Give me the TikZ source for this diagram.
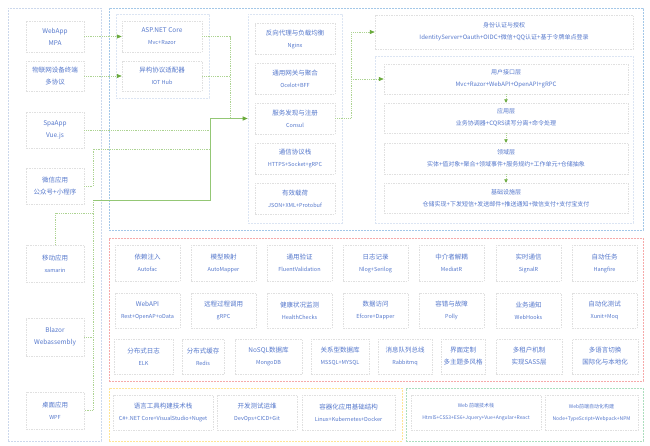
\documentclass[tikz,border=0pt]{standalone}
\usepackage{fontspec}
\setmainfont{Noto Sans CJK SC}
\usetikzlibrary{arrows.meta}
\definecolor{txtblue}{HTML}{5578CC}
\definecolor{boxgray}{HTML}{E0E0E0}
\definecolor{frleft}{HTML}{CCD8EC}
\definecolor{frtop}{HTML}{A4C8E8}
\definecolor{frsub}{HTML}{DCE5F3}
\definecolor{frred}{HTML}{F6AAAA}
\definecolor{fryel}{HTML}{FFE596}
\definecolor{frgrn}{HTML}{ACDEBE}
\definecolor{lgreen}{HTML}{ADD392}
\definecolor{mgreen}{HTML}{94C775}
\definecolor{agreen}{HTML}{6AAA3C}
\newcommand\ttl[1]{{\fontsize{6.5}{7.5}\selectfont #1}}
\newcommand\sbt[1]{{\fontsize{5.5}{7}\selectfont #1}}
\newcommand\bt[2]{\ttl{#1}\\\sbt{#2}}
\newcommand\rt[2]{{\fontsize{6}{7.5}\selectfont #1}\\{\fontsize{6}{7.5}\selectfont #2}}
\newcommand\gt[2]{{\fontsize{5}{7}\selectfont #1}\\{\fontsize{5}{7}\selectfont #2}}
\begin{document}
\begin{tikzpicture}[x=1pt,y=-1pt,
  bx/.style={draw=boxgray, line width=0.5pt, dash pattern=on 1.5pt off 1pt,
    text=txtblue, align=center, inner sep=0pt},
  fr/.style={line width=0.6pt, dash pattern=on 2pt off 1pt, inner sep=0pt},
  conn/.style={draw=lgreen, line width=0.6pt, dash pattern=on 1pt off 0.8pt},
  bus/.style={draw=mgreen, line width=1pt},
  arr/.style={-{Triangle[length=5pt,width=4pt,color=agreen]}},
  sarr/.style={-{Triangle[length=3.5pt,width=3.5pt,color=agreen]}}
]
\useasboundingbox[fill=white] (0,0) rectangle (650,445);
% frames
\node[fr, draw=frleft, minimum width=93pt, minimum height=433pt] (fleft) at (54.5,224.5) {};
\node[fr, draw=frtop, minimum width=534pt, minimum height=222pt] (ftop) at (376,119) {};
\node[fr, draw=frsub, minimum width=93pt, minimum height=84pt] (fiot) at (162.5,56) {};
\node[fr, draw=frsub, minimum width=94pt, minimum height=209pt] (mfr) at (295,118.5) {};
\node[fr, draw=frsub, minimum width=258pt, minimum height=167pt] (rfr) at (504,139.5) {};
\node[fr, draw=frred, minimum width=534pt, minimum height=143pt] (fred) at (376,309.5) {};
\node[fr, draw=fryel, minimum width=293pt, minimum height=53pt] (fyel) at (255.5,414.5) {};
\node[fr, draw=frgrn, minimum width=237pt, minimum height=53pt] (fgrn) at (524.5,414.5) {};
% clients
\tikzset{cl/.style={bx, minimum width=58pt}}
\node[cl, minimum height=31pt] (web) at (55,36.5) {\ttl{WebApp}\\\ttl{MPA}};
\node[cl, minimum height=30pt] (iotc) at (55,76) {\ttl{物联网设备终端}\\\ttl{多协议}};
\node[cl, minimum height=36pt] (spa) at (55,130) {\ttl{SpaApp}\\\ttl{Vue.js}};
\node[cl, minimum height=36pt] (wx) at (55,186) {\ttl{微信应用}\\\ttl{公众号+小程序}};
\node[cl, minimum height=37pt] (mob) at (55,263.5) {\ttl{移动应用}\\\sbt{xamarin}};
\node[cl, minimum height=38pt] (blz) at (55,337) {\ttl{Blazor}\\\ttl{Webassembly}};
\node[cl, minimum height=37pt] (desk) at (55,410.5) {\ttl{桌面应用}\\\sbt{WPF}};
% top-left
\node[bx, minimum width=80pt, minimum height=31pt] (asp) at (162,36.5) {\bt{ASP.NET Core}{Mvc+Razor}};
\node[bx, minimum width=80pt, minimum height=30pt] (iot) at (162,76) {\bt{异构协议适配器}{IOT Hub}};
% middle column
\tikzset{mc/.style={bx, minimum width=80pt, minimum height=31pt}}
\node[mc] (m1) at (295,39) {\bt{反向代理与负载均衡}{Nginx}};
\node[mc] (m2) at (295,78.5) {\bt{通用网关与聚合}{Ocelot+BFF}};
\node[mc] (m3) at (295,118.5) {\bt{服务发现与注册}{Consul}};
\node[mc] (m4) at (295,158.5) {\bt{通信协议栈}{HTTPS+Socket+gRPC}};
\node[mc] (m5) at (295,198.5) {\bt{有效载荷}{JSON+XML+Protobuf}};
% right column
\node[bx, minimum width=258pt, minimum height=34pt] (auth) at (504,32) {\rt{身份认证与授权}{IdentityServer+Oauth+OIDC+微信+QQ认证+基于令牌单点登录}};
\tikzset{ly/.style={bx, minimum width=244pt}}
\node[ly, minimum height=30pt] (l1) at (506,79) {\rt{用户接口层}{Mvc+Razor+WebAPI+OpenAPI+gRPC}};
\node[ly, minimum height=30pt] (l2) at (506,118) {\rt{应用层}{业务协调器+CQRS读写分离+命令处理}};
\node[ly, minimum height=31pt] (l3) at (506,158.5) {\rt{领域层}{实体+值对象+聚合+领域事件+服务规约+工作单元+仓储抽象}};
\node[ly, minimum height=30pt] (l4) at (506,198) {\rt{基础设施层}{仓储实现+下发短信+发送邮件+推送通知+微信支付+支付宝支付}};
% red frame grid
\tikzset{g1/.style={bx, minimum width=65pt, minimum height=36pt},
         g2/.style={bx, minimum width=65pt, minimum height=35pt},
         g3/.style={bx, minimum height=35pt}}
\node[g1] (a1) at (147.5,263) {\bt{依赖注入}{Autofac}};
\node[g1] (a2) at (223.5,263) {\bt{模型映射}{AutoMapper}};
\node[g1] (a3) at (299.5,263) {\bt{通用验证}{FluentValidation}};
\node[g1] (a4) at (375.5,263) {\bt{日志记录}{Nlog+Serilog}};
\node[g1] (a5) at (451.5,263) {\bt{中介者解耦}{MediatR}};
\node[g1] (a6) at (528.5,263) {\bt{实时通信}{SignalR}};
\node[g1] (a7) at (604.5,263) {\bt{自动任务}{Hangfire}};
\node[g2] (b1) at (147.5,310.5) {\ttl{WebAPI}\\\sbt{Rest+OpenAP+oData}};
\node[g2] (b2) at (223.5,310.5) {\bt{远程过程调用}{gRPC}};
\node[g2] (b3) at (299.5,310.5) {\bt{健康状况监测}{HealthChecks}};
\node[g2] (b4) at (375.5,310.5) {\bt{数据访问}{Efcore+Dapper}};
\node[g2] (b5) at (451.5,310.5) {\bt{容错与故障}{Polly}};
\node[g2] (b6) at (528.5,310.5) {\bt{业务通知}{WebHooks}};
\node[g2] (b7) at (604.5,310.5) {\bt{自动化测试}{Xunit+Moq}};
\node[g3, minimum width=59pt] (d1) at (143.5,356.5) {\bt{分布式日志}{ELK}};
\node[g3, minimum width=42pt] (d2) at (203,356.5) {\bt{分布式缓存}{Redis}};
\node[g3, minimum width=67pt] (d3) at (268.5,356.5) {\bt{NoSQL数据库}{MongoDB}};
\node[g3, minimum width=58pt] (d4) at (340,356.5) {\bt{关系型数据库}{MSSQL+MYSQL}};
\node[g3, minimum width=54pt] (d5) at (405,356.5) {\bt{消息队列总线}{Rabbitmq}};
\node[g3, minimum width=44pt] (d6) at (463,356.5) {\ttl{界面定制}\\\ttl{多主题多风格}};
\node[g3, minimum width=66pt] (d7) at (529,356.5) {\ttl{多租户机制}\\\ttl{实现SASS层}};
\node[g3, minimum width=66pt] (d8) at (605,356.5) {\ttl{多语言切换}\\\ttl{国际化与本地化}};
% yellow frame
\tikzset{yb/.style={bx, minimum height=35pt}}
\node[yb, minimum width=100pt] (y1) at (163,412.5) {\bt{语言工具构建技术栈}{C\#+.NET Core+VisualStudio+Nuget}};
\node[yb, minimum width=80pt] (y2) at (257,412.5) {\bt{开发测试运维}{DevOps+CICD+Git}};
\node[yb, minimum width=93pt] (y3) at (348.5,412.5) {\bt{容器化应用基础结构}{Linux+Kubernetes+Docker}};
% green frame
\node[yb, minimum width=130pt] (w1) at (476,412.5) {\gt{Web 前端技术栈}{Html5+CSS3+ES6+Jquery+Vue+Angular+React}};
\node[yb, minimum width=93pt] (w2) at (591.5,412.5) {\gt{Web前端自动化构建}{Node+TypeScript+Webpack+NPM}};
% junction coordinates
\coordinate (jasp) at (230,118.5);
\coordinate (jbus) at (210,118.5);
\coordinate (jb2) at (93,200);
\coordinate (jwx) at (210,149);
\coordinate (jmob) at (93,213);
\coordinate (jr) at (351,79);
% connectors
\draw[conn] (asp.east) -| (jasp);
\draw[conn] (iot.east) -- (iot.east -| jasp);
\draw[conn] (spa.east) -- (spa.east -| jbus);
\draw[conn] (wx.east) -- (wx.east -| jb2) |- (jwx);
\draw[conn] (mob.north) |- (jmob);
\draw[conn] (jb2) -- (desk.east -| jb2) -- (desk.east);
\draw[conn] (blz.east) -- (blz.east -| jb2);
\draw[bus] (jb2) -| (jbus);
\draw[bus, arr] (jbus) -- (mfr.west);
\draw[conn, arr] (web.east) -- (asp.west);
\draw[conn, arr] (iotc.east) -- (iot.west);
\draw[conn, arr] (m3.east) -| (auth.west -| jr) -- (auth.west);
\draw[conn, arr] (jr) -- (l1.west);
\draw[conn, sarr] (l1.south) -- (l2.north);
\draw[conn, sarr] (l2.south) -- (l3.north);
\draw[conn, sarr] (l3.south) -- (l4.north);
\end{tikzpicture}
\end{document}
